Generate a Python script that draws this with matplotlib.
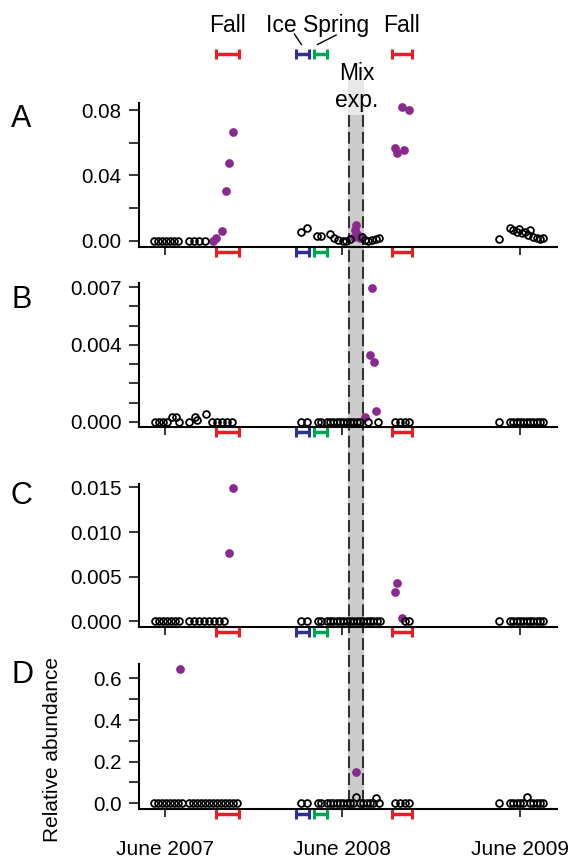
import numpy as np
import matplotlib.pyplot as plt
from matplotlib.transforms import blended_transform_factory, ScaledTranslation
from matplotlib.patches import Rectangle
from matplotlib.lines import Line2D

plt.rcParams['font.family'] = ['Liberation Sans', 'DejaVu Sans']

# ---------------------------------------------------------
# data (x = decimal year)
# ---------------------------------------------------------
fall_2007 = (2007.787, 2007.917)
ice_2008 = (2008.236, 2008.310)
spring_2008 = (2008.339, 2008.411)
fall_2008 = (2008.777, 2008.893)
mix_exp = (2008.531, 2008.621)

year_ticks = [2007.5, 2008.5, 2009.5]
year_labels = ['June 2007', 'June 2008', 'June 2009']

# panel A
a_open_x = [2007.438, 2007.461, 2007.483, 2007.506, 2007.528, 2007.551, 2007.573,
            2007.635, 2007.663, 2007.692, 2007.725,
            2008.265, 2008.298, 2008.358, 2008.377, 2008.430, 2008.452, 2008.476,
            2008.501, 2008.520, 2008.542, 2008.608, 2008.627, 2008.645, 2008.664,
            2008.687, 2008.706,
            2009.382, 2009.444, 2009.462, 2009.481, 2009.496, 2009.510, 2009.528,
            2009.547, 2009.556, 2009.575, 2009.594, 2009.613, 2009.631]
a_open_y = [0, 0, 0, 0, 0, 0, 0,
            0, 0, 0, 0,
            0.0057, 0.0081, 0.0031, 0.0031, 0.0041, 0.0020, 0.0006,
            0.0002, 0.0002, 0.0010, 0.0026, 0.0006, 0.0002, 0.0006,
            0.0012, 0.0020,
            0.0012, 0.0078, 0.0067, 0.0057, 0.0071, 0.0047, 0.0057,
            0.0037, 0.0067, 0.0026, 0.0016, 0.0012, 0.0016]
a_fill_x = [2007.769, 2007.786, 2007.823, 2007.842, 2007.862, 2007.885,
            2008.565, 2008.570, 2008.576, 2008.583, 2008.599,
            2008.796, 2008.809, 2008.834, 2008.846, 2008.875]
a_fill_y = [0.0002, 0.0016, 0.0061, 0.0307, 0.0474, 0.0664,
            0.0026, 0.0067, 0.0098, 0.0043, 0.0020,
            0.0570, 0.0540, 0.0820, 0.0556, 0.0800]

# panel B
b_open_x = [2007.444, 2007.466, 2007.489, 2007.511, 2007.538, 2007.562, 2007.579,
            2007.635, 2007.669, 2007.683, 2007.729, 2007.763, 2007.791, 2007.819,
            2007.848, 2007.877,
            2008.265, 2008.298, 2008.364, 2008.377, 2008.411, 2008.430, 2008.448,
            2008.467, 2008.486, 2008.505, 2008.524, 2008.542, 2008.561, 2008.580,
            2008.599, 2008.645, 2008.702,
            2008.796, 2008.825, 2008.852, 2008.876,
            2009.382, 2009.444, 2009.462, 2009.481, 2009.500, 2009.519, 2009.538,
            2009.556, 2009.575, 2009.594, 2009.613, 2009.631]
b_open_y = [0, 0, 0, 0, 0.00026, 0.00026, 0,
            0, 0.00026, 0.0001, 0.0004, 0, 0, 0,
            0, 0,
            0, 0, 0, 0, 0, 0, 0,
            0, 0, 0, 0, 0, 0, 0,
            0, 0, 0,
            0, 0, 0, 0,
            0, 0, 0, 0, 0, 0, 0,
            0, 0, 0, 0, 0]
b_fill_x = [2008.627, 2008.655, 2008.668, 2008.677, 2008.689]
b_fill_y = [0.00024, 0.00347, 0.00696, 0.0031, 0.00059]

# panel C
c_open_x = [2007.444, 2007.466, 2007.489, 2007.511, 2007.534, 2007.556, 2007.579,
            2007.635, 2007.663, 2007.692, 2007.720, 2007.748, 2007.776, 2007.804,
            2007.835,
            2008.265, 2008.298, 2008.364, 2008.377, 2008.411, 2008.430, 2008.448,
            2008.467, 2008.486, 2008.505, 2008.524, 2008.542, 2008.561, 2008.580,
            2008.599, 2008.618, 2008.636, 2008.655, 2008.674, 2008.693, 2008.711,
            2008.852, 2008.876,
            2009.382, 2009.444, 2009.462, 2009.481, 2009.500, 2009.519, 2009.538,
            2009.556, 2009.575, 2009.594, 2009.613, 2009.631]
c_open_y = [0, 0, 0, 0, 0, 0, 0,
            0, 0, 0, 0, 0, 0, 0,
            0,
            0, 0, 0, 0, 0, 0, 0,
            0, 0, 0, 0, 0, 0, 0,
            0, 0, 0, 0, 0, 0, 0,
            0, 0,
            0, 0, 0, 0, 0, 0, 0,
            0, 0, 0, 0, 0]
c_fill_x = [2007.862, 2007.885, 2008.796, 2008.809, 2008.834]
c_fill_y = [0.0077, 0.01496, 0.0033, 0.0043, 0.0004]

# panel D
d_open_x = [2007.438, 2007.461, 2007.483, 2007.506, 2007.528, 2007.551, 2007.573,
            2007.596, 2007.635, 2007.658, 2007.680, 2007.703, 2007.725, 2007.748,
            2007.770, 2007.793, 2007.815, 2007.838, 2007.861, 2007.883, 2007.906,
            2008.265, 2008.298, 2008.364, 2008.377, 2008.411, 2008.430, 2008.448,
            2008.467, 2008.486, 2008.505, 2008.524, 2008.542, 2008.561, 2008.576,
            2008.599, 2008.618, 2008.636, 2008.655, 2008.674, 2008.687, 2008.706,
            2008.796, 2008.825, 2008.852, 2008.876,
            2009.382, 2009.444, 2009.462, 2009.481, 2009.500, 2009.519, 2009.541,
            2009.556, 2009.575, 2009.594, 2009.613, 2009.631]
d_open_y = [0, 0, 0, 0, 0, 0, 0,
            0, 0, 0, 0, 0, 0, 0,
            0, 0, 0, 0, 0, 0, 0,
            0, 0, 0, 0, 0, 0, 0,
            0, 0, 0, 0, 0, 0, 0.032,
            0, 0, 0, 0, 0, 0.024, 0,
            0, 0, 0, 0,
            0, 0, 0, 0, 0, 0, 0.032,
            0, 0, 0, 0, 0]
d_fill_x = [2007.585, 2008.576]
d_fill_y = [0.645, 0.152]

# ---------------------------------------------------------
# figure layout
# ---------------------------------------------------------
W, H = 572, 861
fig = plt.figure(figsize=(W / 100, H / 100), dpi=100)

PURPLE = '#8B2A8E'
RED = '#EC1C24'
BLUE = '#2E3192'
GREEN = '#00A651'


def add_px_axes(left, top, right, bottom):
    return fig.add_axes([left / W, 1 - bottom / H, (right - left) / W, (bottom - top) / H])


def fy(y):
    return 1 - y / H


panels = [
    ('A', (103, 247), (-0.0037, 0.0843), [0, 0.04, 0.08], ['0.00', '0.04', '0.08'],
     [0.02, 0.06], a_open_x, a_open_y, a_fill_x, a_fill_y, 127),
    ('B', (283, 427), (-0.00026, 0.00721), [0, 0.004, 0.007], ['0.000', '0.004', '0.007'],
     [0.001, 0.002, 0.003, 0.005, 0.006], b_open_x, b_open_y, b_fill_x, b_fill_y, 308),
    ('C', (484, 627), (-0.000625, 0.01537), [0, 0.005, 0.010, 0.015],
     ['0.000', '0.005', '0.010', '0.015'], [], c_open_x, c_open_y, c_fill_x, c_fill_y, 504),
    ('D', (664, 809), (-0.0274, 0.669), [0, 0.2, 0.4, 0.6], ['0.0', '0.2', '0.4', '0.6'],
     [0.1, 0.3, 0.5], d_open_x, d_open_y, d_fill_x, d_fill_y, 683),
]

seasons = [(fall_2007, RED), (ice_2008, BLUE), (spring_2008, GREEN), (fall_2008, RED)]

axes = []
for letter, (top, bottom), ylim, yt, ytl, ymin, ox, oy, fx, fyv, base in panels:
    ax = add_px_axes(139, top, 557, bottom)
    ax.set_facecolor('none')
    ax.set_xlim(2007.3535, 2009.7085)
    ax.set_ylim(*ylim)
    for s in ['top', 'right']:
        ax.spines[s].set_visible(False)
    for s in ['left', 'bottom']:
        ax.spines[s].set_linewidth(1.5)

    ax.plot(fx, fyv, 'o', color=PURPLE, ms=6.3, mec='none', zorder=2, clip_on=False)
    ax.plot(ox, oy, 'o', mfc='none', mec='black', ms=4.9, mew=1.3, zorder=3, clip_on=False)

    ax.set_yticks(yt)
    ax.set_yticklabels(ytl)
    ax.set_yticks(ymin, minor=True)
    ax.tick_params(axis='y', which='both', length=7.5, width=1.1, pad=5, labelsize=14.8)
    ax.set_xticks(year_ticks)
    ax.tick_params(axis='x', length=6, width=1.1, pad=16, labelsize=15)
    if letter == 'D':
        ax.set_xticklabels(year_labels)
    else:
        ax.set_xticklabels([])

    # season bars just below the x axis
    trans = blended_transform_factory(ax.transData, ax.transAxes) + \
        ScaledTranslation(0, -5 / 100, fig.dpi_scale_trans)
    for (s, e), c in seasons:
        ax.plot([s, e], [0, 0], color=c, lw=2.5, transform=trans, clip_on=False,
                solid_capstyle='butt')
        ax.plot([s, e], [0, 0], ls='none', marker='|', ms=7.5, mew=2.2, color=c,
                transform=trans, clip_on=False)

    fig.text(11 / W, fy(base), letter, fontsize=22, ha='left', va='baseline')
    axes.append(ax)

axA = axes[0]
top_trans = blended_transform_factory(axA.transData, fig.transFigure)

# mix experiment band and dashed borders
fig.add_artist(Rectangle((mix_exp[0], fy(115)), mix_exp[1] - mix_exp[0], fy(810) - fy(115),
                         transform=top_trans, color='#cccccc', zorder=-3, lw=0))
fig.add_artist(Rectangle((mix_exp[0], fy(115)), mix_exp[1] - mix_exp[0], fy(80) - fy(115),
                         transform=top_trans, color='#e8e8e8', zorder=-3, lw=0))
for xd in [mix_exp[0] + 0.007, mix_exp[1] - 0.007]:
    fig.add_artist(Line2D([xd, xd], [fy(115), fy(808)], transform=top_trans, color='#333333',
                          lw=1.5, ls=(0, (5.7, 2.4)), zorder=-2))

# season legend on top
for (s, e), c in seasons:
    fig.add_artist(Line2D([s, e], [fy(54), fy(54)], transform=top_trans, color=c, lw=2.5,
                          solid_capstyle='butt'))
    fig.add_artist(Line2D([s, e], [fy(54), fy(54)], transform=top_trans, color=c, ls='none',
                          marker='|', ms=7.5, mew=2.2))

fs_top = 16.5
fig.text(sum(fall_2007) / 2, fy(32), 'Fall', transform=top_trans, fontsize=fs_top,
         ha='center', va='baseline')
fig.text(sum(fall_2008) / 2, fy(32), 'Fall', transform=top_trans, fontsize=fs_top,
         ha='center', va='baseline')
fig.text(317.5 / W, fy(32), 'Ice Spring', fontsize=fs_top, ha='center', va='baseline')
fig.add_artist(Line2D([294.4 / W, 301.4 / W], [fy(34), fy(44.5)], color='black', lw=1))
fig.add_artist(Line2D([336.2 / W, 317.5 / W], [fy(35), fy(44.5)], color='black', lw=1))
fig.text(357 / W, fy(80), 'Mix', fontsize=fs_top, ha='center', va='baseline')
fig.text(357 / W, fy(107), 'exp.', fontsize=fs_top, ha='center', va='baseline')

fig.text(53 / W, fy(750), 'Relative abundance', fontsize=15, rotation=90,
         ha='center', va='center')

fig.savefig('out.png', dpi=100)
